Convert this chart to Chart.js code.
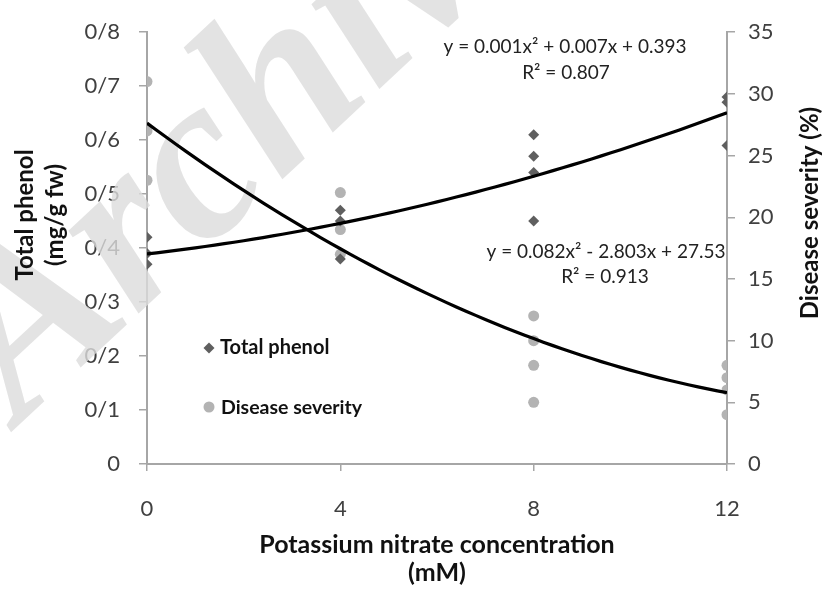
<!DOCTYPE html>
<html><head><meta charset="utf-8">
<script src="https://cdn.jsdelivr.net/npm/chart.js@4"></script>
<style>html,body{margin:0;padding:0;background:#fff}#wrap{width:825px;height:589px}</style>
</head><body><div id="wrap"><canvas id="c" width="825" height="589"></canvas></div>
<script>
// ---- data ----
const xTickValues = [0, 4, 8, 12];
const phenolX = [0, 0, 0, 4, 4, 4, 8, 8, 8, 8, 12, 12, 12];
const phenolY = [0.42, 0.39, 0.37, 0.47, 0.45, 0.38, 0.61, 0.57, 0.54, 0.45, 0.68, 0.67, 0.59];
const severityX = [0, 0, 0, 4, 4, 4, 8, 8, 8, 8, 12, 12, 12, 12];
const severityY = [31, 27, 23, 22, 19, 17, 12, 10, 8, 5, 8, 7, 6, 4];
const leftTickLabels = ['0', '0/1', '0/2', '0/3', '0/4', '0/5', '0/6', '0/7', '0/8'];
const rightTickLabels = ['0', '5', '10', '15', '20', '25', '30', '35'];
const phenolEquation = ['y = 0.001x\u00B2 + 0.007x + 0.393', 'R\u00B2 = 0.807'];
const severityEquation = ['y = 0.082x\u00B2 - 2.803x + 27.53', 'R\u00B2 = 0.913'];
const seriesNames = ['Total phenol', 'Disease severity'];
const xTitle = ['Potassium nitrate concentration', '(mM)'];
const leftTitle = ['Total phenol', '(mg/g fw)'];
const rightTitle = 'Disease severity (%)';

// least-squares quadratic trendline (as the spreadsheet computes it)
function quadFit(xs, ys) {
  const S = [0,0,0,0,0], T = [0,0,0];
  for (let i = 0; i < xs.length; i++) {
    let p = 1;
    for (let k = 0; k < 5; k++) { S[k] += p; if (k < 3) T[k] += p * ys[i]; p *= xs[i]; }
  }
  const M = [[S[0],S[1],S[2],T[0]],[S[1],S[2],S[3],T[1]],[S[2],S[3],S[4],T[2]]];
  for (let c = 0; c < 3; c++) {
    for (let r = c + 1; r < 3; r++) {
      const f = M[r][c] / M[c][c];
      for (let k = c; k < 4; k++) M[r][k] -= f * M[c][k];
    }
  }
  const sol = [0,0,0];
  for (let r = 2; r >= 0; r--) {
    let s = M[r][3];
    for (let k = r + 1; k < 3; k++) s -= M[r][k] * sol[k];
    sol[r] = s / M[r][r];
  }
  return sol; // c, b, a
}
function trend(xs, ys) {
  const [c, b, a] = quadFit(xs, ys);
  const pts = [];
  for (let i = 0; i <= 60; i++) { const x = i * 0.2; pts.push({x, y: c + b * x + a * x * x}); }
  return pts;
}
const toPts = (xs, ys) => xs.map((x, i) => ({x, y: ys[i]}));

const FONT = 'Lato, "Open Sans", sans-serif';
const AXIS = '#a6a6a6';
const TICKC = '#404040';

const overlay = {
  id: 'overlay',
  beforeDatasetsDraw(chart) {
    const ctx = chart.ctx;
    ctx.save();
    ctx.translate(20, 424);
    ctx.rotate(-43 * Math.PI / 180);
    ctx.font = 'italic bold 236px "Liberation Serif", "DejaVu Serif", serif';
    ctx.fillStyle = 'rgba(220,220,220,0.8)';
    ctx.textBaseline = 'alphabetic';
    ctx.fillText('Archive', 0, 0);
    ctx.restore();
  },
  afterDraw(chart) {
    const ctx = chart.ctx, a = chart.chartArea;
    ctx.save();
    ctx.fillStyle = '#111';
    ctx.textAlign = 'center';
    ctx.textBaseline = 'middle';
    // x title
    ctx.font = 'bold 25px ' + FONT;
    ctx.fillText(xTitle[0], (a.left + a.right) / 2, a.bottom + 81);
    ctx.fillText(xTitle[1], (a.left + a.right) / 2, a.bottom + 109);
    // left title
    ctx.font = 'bold 24px ' + FONT;
    ctx.save();
    ctx.translate(25, 215); ctx.rotate(-Math.PI / 2);
    ctx.fillText(leftTitle[0], 0, 0);
    ctx.fillText(leftTitle[1], 0, 30);
    ctx.restore();
    // right title
    ctx.save();
    ctx.translate(810, 213); ctx.rotate(-Math.PI / 2);
    ctx.fillText(rightTitle, 0, 0);
    ctx.restore();
    // equations
    ctx.fillStyle = '#222';
    ctx.font = '19px ' + FONT;
    ctx.fillText(phenolEquation[0], 565, 47);
    ctx.fillText(phenolEquation[1], 566, 73);
    ctx.fillText(severityEquation[0], 606, 252);
    ctx.fillText(severityEquation[1], 605, 277);
    // legend
    const lx = a.left + 62;
    ctx.textAlign = 'left';
    ctx.fillStyle = '#5f5f5f';
    ctx.beginPath();
    ctx.moveTo(lx, 348 - 5.5); ctx.lineTo(lx + 5.5, 348); ctx.lineTo(lx, 348 + 5.5); ctx.lineTo(lx - 5.5, 348); ctx.closePath(); ctx.fill();
    ctx.fillStyle = '#b3b3b3';
    ctx.beginPath(); ctx.arc(lx, 407, 5.5, 0, Math.PI * 2); ctx.fill();
    ctx.fillStyle = '#111';
    ctx.font = 'bold 20px ' + FONT;
    ctx.fillText(seriesNames[0], lx + 11, 348);
    ctx.font = 'bold 19.5px ' + FONT;
    ctx.fillText(seriesNames[1], lx + 12, 408);
    ctx.restore();
  }
};

new Chart(document.getElementById('c'), {
  type: 'scatter',
  data: {
    datasets: [
      { label: seriesNames[0] + ' trend', data: trend(phenolX, phenolY), yAxisID: 'y', showLine: true,
        borderColor: '#000', borderWidth: 3.2, pointRadius: 0, tension: 0 },
      { label: seriesNames[1] + ' trend', data: trend(severityX, severityY), yAxisID: 'y1', showLine: true,
        borderColor: '#000', borderWidth: 3.2, pointRadius: 0, tension: 0 },
      { label: seriesNames[0], data: toPts(phenolX, phenolY), yAxisID: 'y',
        pointStyle: 'rectRot', pointRadius: 5.5, backgroundColor: '#5f5f5f', borderWidth: 0 },
      { label: seriesNames[1], data: toPts(severityX, severityY), yAxisID: 'y1',
        pointStyle: 'circle', pointRadius: 5.5, backgroundColor: '#b3b3b3', borderWidth: 0 }
    ]
  },
  options: {
    responsive: false,
    animation: false,
    layout: { padding: { top: 11, left: 0, right: 0, bottom: 0 } },
    plugins: { legend: { display: false }, tooltip: { enabled: false } },
    scales: {
      x: {
        type: 'linear', min: 0, max: 12,
        afterBuildTicks: s => { s.ticks = xTickValues.map(v => ({value: v})); },
        ticks: { color: TICKC, font: { family: FONT, size: 22 }, padding: 25 },
        grid: { drawOnChartArea: false, color: AXIS, tickLength: 7, lineWidth: 1.5 },
        border: { color: AXIS, width: 2 },
        afterFit: s => { s.height = 125; }
      },
      y: {
        position: 'left', min: 0, max: 0.8,
        afterBuildTicks: s => { s.ticks = leftTickLabels.map((t, i) => ({value: i / 10})); },
        ticks: { color: TICKC, font: { family: FONT, size: 22 }, padding: 19,
                 callback: (v, i) => leftTickLabels[i] },
        grid: { drawOnChartArea: false, color: AXIS, tickLength: 8, lineWidth: 1.5 },
        border: { color: AXIS, width: 2 },
        afterFit: s => { s.width = 147; }
      },
      y1: {
        position: 'right', min: 0, max: 35,
        afterBuildTicks: s => { s.ticks = rightTickLabels.map(t => ({value: Number(t)})); },
        ticks: { color: TICKC, font: { family: FONT, size: 22 }, padding: 13,
                 callback: (v, i) => rightTickLabels[i] },
        grid: { drawOnChartArea: false, color: AXIS, tickLength: 8, lineWidth: 1.5 },
        border: { color: AXIS, width: 2 },
        afterFit: s => { s.width = 98; }
      }
    }
  },
  plugins: [overlay]
});
</script>
</body></html>
